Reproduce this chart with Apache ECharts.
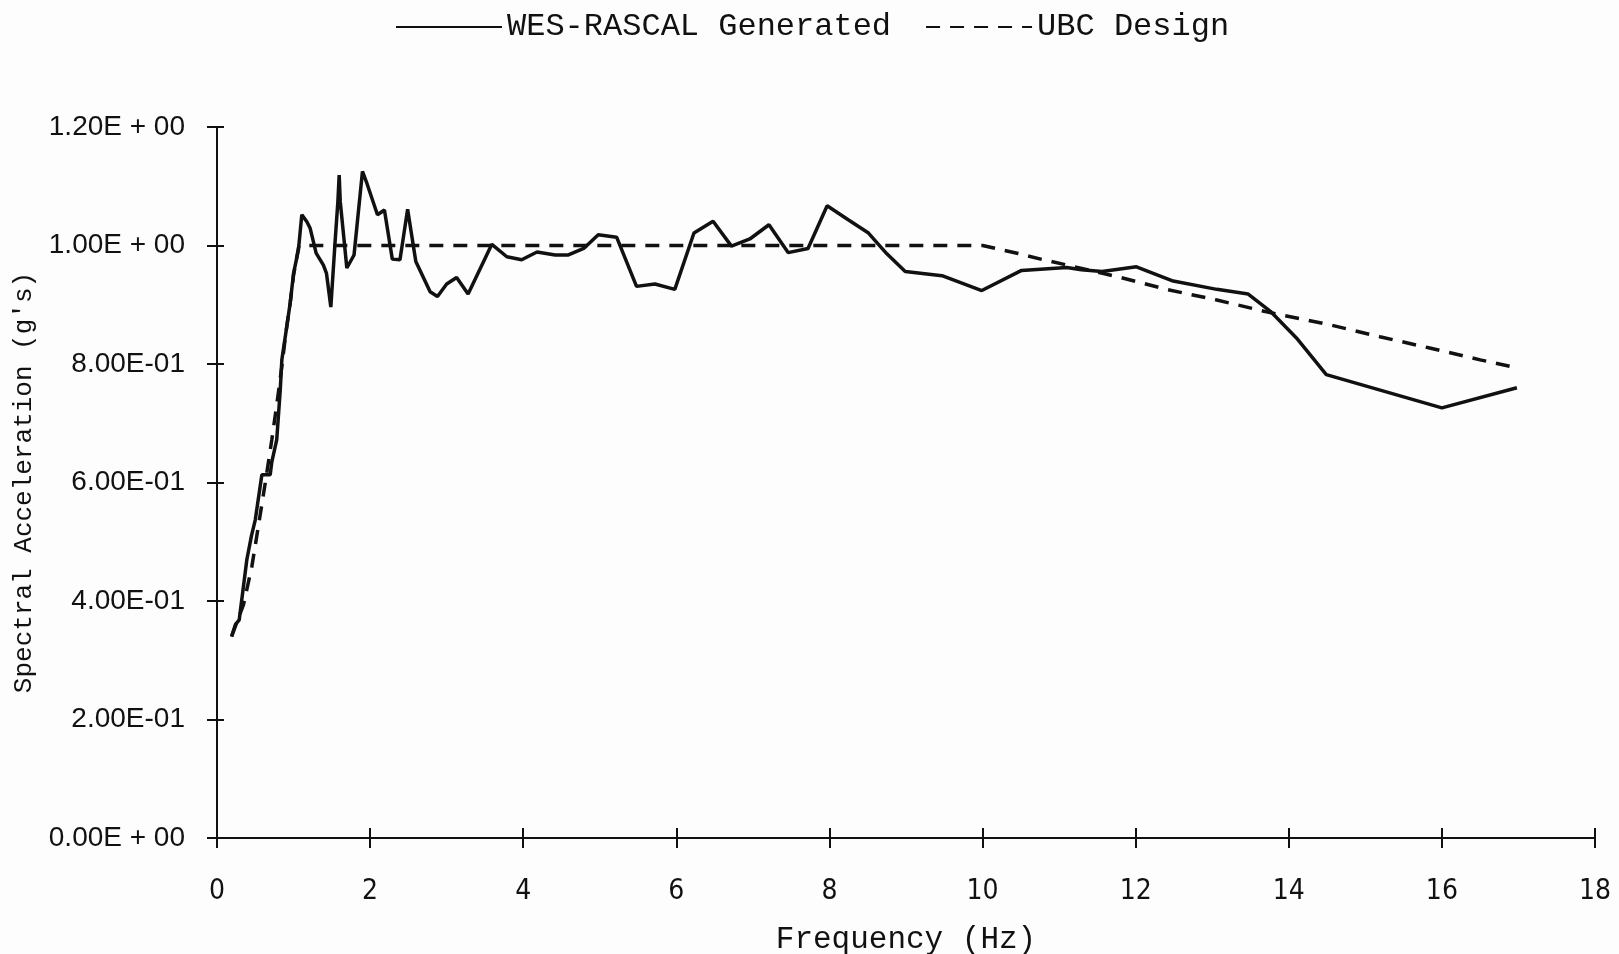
<!DOCTYPE html>
<html>
<head>
<meta charset="utf-8">
<script src="https://cdn.jsdelivr.net/npm/echarts@6/dist/echarts.min.js"></script>
<style>
html,body{margin:0;padding:0;background:#fdfdfd;}
#chart{width:1619px;height:954px;}
</style>
</head>
<body>
<div id="chart"></div>
<script>
// ---- data ----
const seriesNames = ['WES-RASCAL Generated', 'UBC Design'];
const xTickLabels = ['0','2','4','6','8','10','12','14','16','18'];
const yTickLabels = ['0.00E + 00','2.00E-01','4.00E-01','6.00E-01','8.00E-01','1.00E + 00','1.20E + 00'];

const rascalFreq = [0.19,0.24,0.29,0.39,0.45,0.50,0.586,0.695,0.716,0.78,0.826,0.847,0.90,0.956,1.0,1.064,1.108,1.174,1.217,1.295,1.39,1.43,1.487,1.544,1.579,1.596,1.61,1.696,1.79,1.90,1.95,2.096,2.187,2.29,2.39,2.49,2.597,2.784,2.88,3.0,3.13,3.28,3.59,3.786,3.98,4.18,4.417,4.59,4.79,4.98,5.22,5.48,5.72,5.98,6.23,6.48,6.72,6.96,7.21,7.46,7.72,7.97,8.25,8.51,8.75,8.99,9.47,9.99,10.51,11.10,11.29,11.56,12.01,12.49,13.06,13.47,13.76,14.10,14.49,16.0,16.98];
const rascalSa   = [0.34,0.36,0.368,0.47,0.51,0.537,0.613,0.613,0.635,0.672,0.756,0.807,0.853,0.903,0.953,0.993,1.052,1.040,1.029,0.987,0.967,0.953,0.896,1.009,1.074,1.119,1.074,0.962,0.984,1.125,1.108,1.052,1.060,0.977,0.976,1.061,0.973,0.922,0.914,0.935,0.946,0.918,1.002,0.981,0.976,0.989,0.984,0.984,0.995,1.018,1.014,0.931,0.935,0.926,1.021,1.041,0.999,1.011,1.035,0.988,0.995,1.067,1.043,1.021,0.986,0.956,0.949,0.924,0.958,0.963,0.959,0.956,0.964,0.940,0.926,0.918,0.889,0.844,0.782,0.726,0.760];

const ubcFreq = [0.19,0.346,0.455,0.54,0.63,0.716,0.795,0.847,0.90,0.956,1.0,1.07,10.0,10.45,10.79,11.14,11.8,12.4,13.06,13.71,14.54,15.19,15.84,16.5,17.0];
const ubcSa   = [0.34,0.394,0.458,0.526,0.599,0.672,0.745,0.796,0.853,0.903,0.95,1.0,1.0,0.987,0.976,0.966,0.946,0.926,0.908,0.888,0.866,0.846,0.827,0.807,0.793];

// ---- chart ----
const pairs = (xs, ys) => xs.map((x, i) => [x, ys[i]]);
const chart = echarts.init(document.getElementById('chart'), null, {renderer: 'canvas'});
const ink = '#111111';
const mono = 'Liberation Mono';

const xBase = {
  type: 'value', min: 0, max: 18, interval: 2, position: 'bottom',
  splitLine: {show: false}
};
const yBase = {
  type: 'value', min: 0, max: 1.2, interval: 0.2, position: 'left',
  splitLine: {show: false}
};

chart.setOption({
  backgroundColor: '#fdfdfd',
  animation: false,
  legend: {
    data: seriesNames,
    left: 390, top: 6,
    itemWidth: 106, itemHeight: 14, itemGap: 34,
    itemStyle: {color: 'rgba(0,0,0,0)', borderWidth: 0, opacity: 0},
    textStyle: {fontFamily: mono, fontSize: 32, color: ink}
  },
  grid: {left: 217, right: 24, top: 127, bottom: 116, containLabel: false, outerBoundsMode: 'none'},
  xAxis: [
    Object.assign({}, xBase, {
      name: 'Frequency (Hz)', nameLocation: 'middle', nameGap: 86,
      nameTextStyle: {fontFamily: mono, fontSize: 31, color: ink},
      axisLine: {show: true, lineStyle: {color: ink, width: 2}},
      axisTick: {show: true, inside: false, length: 10, lineStyle: {color: ink, width: 2}},
      axisLabel: {
        margin: 40, fontFamily: "'DejaVu Sans Condensed', 'Liberation Sans'", fontSize: 28, color: ink,
        formatter: v => xTickLabels[Math.round(v / 2)]
      }
    }),
    Object.assign({}, xBase, {
      axisLine: {show: false},
      axisTick: {show: true, inside: true, length: 10, lineStyle: {color: ink, width: 2}},
      axisLabel: {show: false}
    })
  ],
  yAxis: [
    Object.assign({}, yBase, {
      name: "Spectral Acceleration (g's)", nameLocation: 'middle', nameGap: 180,
      nameTextStyle: {fontFamily: mono, fontSize: 26, color: ink},
      axisLine: {show: true, lineStyle: {color: ink, width: 2}},
      axisTick: {show: true, inside: false, length: 10, lineStyle: {color: ink, width: 2}},
      axisLabel: {
        margin: 32, fontFamily: 'Liberation Sans', fontSize: 28, color: ink,
        formatter: v => yTickLabels[Math.round(v / 0.2)]
      }
    }),
    Object.assign({}, yBase, {
      axisLine: {show: false},
      axisTick: {show: true, inside: true, length: 7, lineStyle: {color: ink, width: 2}},
      axisLabel: {show: false}
    })
  ],
  series: [
    {
      name: seriesNames[0], type: 'line', xAxisIndex: 0, yAxisIndex: 0,
      data: pairs(rascalFreq, rascalSa),
      showSymbol: false, symbol: 'none', smooth: false,
      lineStyle: {color: ink, width: 3.5, type: 'solid'},
      itemStyle: {color: ink}
    },
    {
      name: seriesNames[1], type: 'line', xAxisIndex: 0, yAxisIndex: 0,
      data: pairs(ubcFreq, ubcSa),
      showSymbol: false, symbol: 'none', smooth: false,
      lineStyle: {color: ink, width: 3.5, type: [14, 10]},
      itemStyle: {color: ink}
    }
  ]
});
</script>
</body>
</html>
